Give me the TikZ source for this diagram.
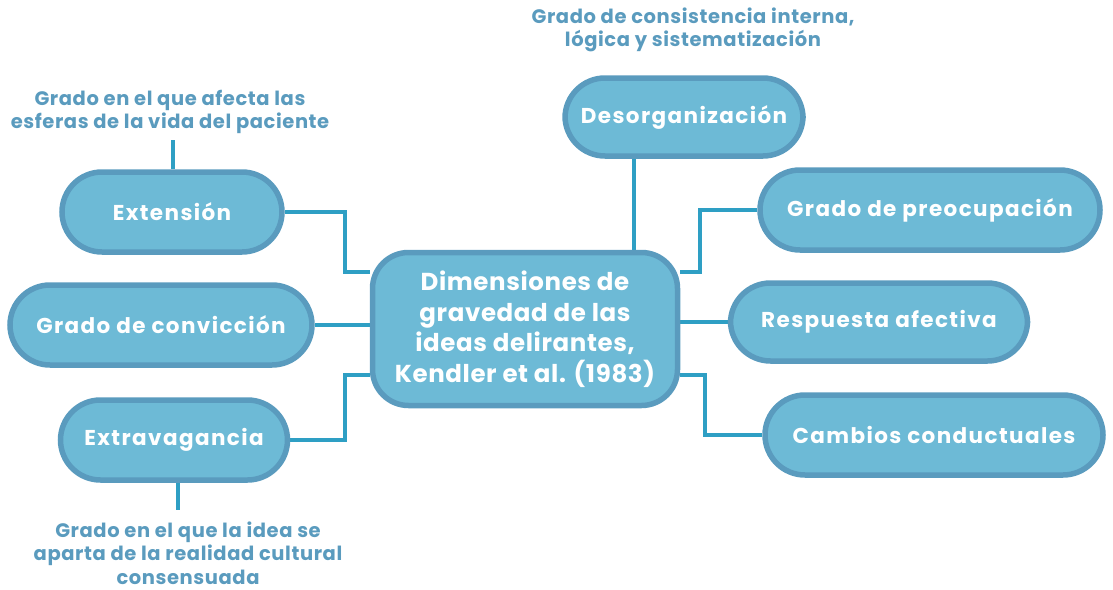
\documentclass[tikz,border=0pt]{standalone}
\usepackage{fontspec}
\setmainfont{Poppins}
\usetikzlibrary{positioning,calc,backgrounds}
\definecolor{pillfill}{HTML}{6DBAD6}
\definecolor{pillline}{HTML}{5A9BBE}
\definecolor{linkcol}{HTML}{2E9FC4}
\definecolor{notecol}{HTML}{5A9BBE}

\begin{document}
\begin{tikzpicture}[
  x=1pt, y=-1pt,
  pill/.style={draw=pillline, fill=pillfill, line width=5.5pt, rounded corners=40pt,
    minimum height=80pt, text=white,
    font=\bfseries\fontsize{21.5}{24}\selectfont\addfontfeatures{LetterSpace=6.5}},
  core/.style={draw=pillline, fill=pillfill, line width=5.5pt, rounded corners=36pt,
    minimum width=305pt, minimum height=153pt, align=center, text=white,
    font=\bfseries\fontsize{24.5}{30.5}\selectfont\addfontfeatures{LetterSpace=2.5}},
  note/.style={align=center, text=notecol,
    font=\bfseries\fontsize{19.5}{23.5}\selectfont\addfontfeatures{LetterSpace=3}},
  link/.style={draw=linkcol, line width=4.5pt}
]
\useasboundingbox (0,0) rectangle (1113,589);

% central node
\node[core] (dim) at (525,329) {Dimensiones de\\gravedad de las\\ideas delirantes,\\Kendler et al. (1983)};

% left side
\node[pill, minimum width=220pt] (ext) at (172,212) {Extensión};
\node[pill, minimum width=302pt] (conv) at (161,325) {Grado de convicción};
\node[pill, minimum width=227pt] (extra) at (174,440) {Extravagancia};

% right side
\node[pill, minimum width=238pt, minimum height=78pt] (desorg) at (684,117) {Desorganización};
\node[pill, minimum width=340pt] (preoc) at (930,210) {Grado de preocupación};
\node[pill, minimum width=297pt, minimum height=78pt] (resp) at (879,322) {Respuesta afectiva};
\node[pill, minimum width=338pt] (camb) at (934,435) {Cambios conductuales};

% annotations
\node[note] (n-ext) at (170,112) {Grado en el que afecta las\\esferas de la vida del paciente};
\node[note] (n-desorg) at (693,30) {Grado de consistencia interna,\\lógica y sistematización};
\node[note] (n-extra) at (188,553) {Grado en el que la idea se\\aparta de la realidad cultural\\consensuada};

% connectors
\begin{scope}[on background layer]
\draw[link] (ext.east) -| (345,272) -- (dim.west |- 0,272);
\draw[link] (conv.east) -- (dim.west |- conv.east);
\draw[link] (extra.east) -| (345,375) -- (dim.west |- 0,375);
\draw[link] ([xshift=-50pt]desorg.south) -- ([xshift=-50pt]desorg.south |- dim.north);
\draw[link] (preoc.west) -| (700,272) -- (dim.east |- 0,272);
\draw[link] (resp.west) -- (dim.east |- resp.west);
\draw[link] (camb.west) -| (705,375) -- (dim.east |- 0,375);
\draw[link] (173,140) -- (ext.north -| 173,0);
\draw[link] (extra.south -| 178,0) -- (178,510);
\end{scope}
\end{tikzpicture}
\end{document}
